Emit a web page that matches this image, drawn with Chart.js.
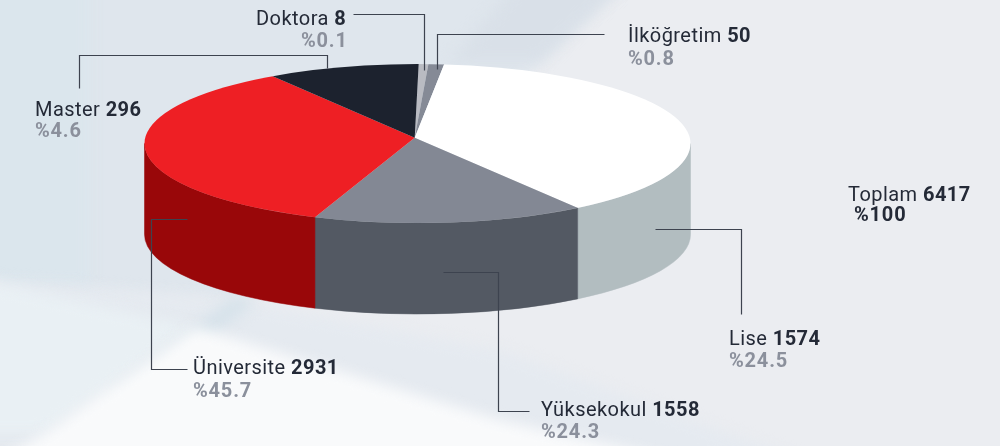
<!DOCTYPE html>
<html><head><meta charset="utf-8">
<style>html,body{margin:0;padding:0;background:#eceef2}canvas{display:block}</style>
<script src="https://cdn.jsdelivr.net/npm/chart.js@4"></script></head>
<body><canvas id="c" width="1000" height="446"></canvas>
<script>
const categories = ['Doktora','İlköğretim','Lise','Yüksekokul','Üniversite','Master'];
const counts = [8,50,1574,1558,2931,296];
const percents = ['%0.1','%0.8','%24.5','%24.3','%45.7','%4.6'];
// slice sizes as drawn in the picture (degrees of the pie, they are not proportional to the counts)
const drawnSlices = [2.2,3.55,139.25,54.2,126,34.8];
const totalLabel = 'Toplam', totalCount = 6417, totalPercent = '%100';
const topColors = ['#b9bbc2','#858a96','#ffffff','#838894','#ee1f24','#1c222e'];
const sideColors = ['#b9bbc2','#858a96','#b2bdc0','#535963','#990709','#1c222e'];

const E = {cx:417.5, cy:143.5, rx:273, ry:79.5, depth:91, ax:414.7, ay:137.8};

function polygon(ctx,pts,col){ctx.fillStyle=col;ctx.beginPath();pts.forEach((p,i)=>i?ctx.lineTo(p[0],p[1]):ctx.moveTo(p[0],p[1]));ctx.closePath();ctx.fill();}
const backdrop = {id:'backdrop',beforeDraw(chart){
  const c=chart.ctx;c.save();
  c.fillStyle='#ebedf1';c.fillRect(0,0,1000,446);
  c.filter='blur(7px)';
  polygon(c,[[-20,-20],[628,-20],[520,80],[400,200],[230,300],[-20,290]],'#dfe6ed');
  polygon(c,[[-20,-20],[90,-20],[90,285],[-20,285]],'#dbe6ed');
  polygon(c,[[520,-20],[628,-20],[540,62],[450,62]],'#d9e0e8');
  polygon(c,[[230,300],[500,350],[800,460],[-20,460],[-20,280]],'#e5eaf0');
  polygon(c,[[-20,280],[195,327],[45,433],[-20,433]],'#e9f0f4');
  polygon(c,[[235,296],[195,327],[115,392],[130,398],[258,300]],'#d6e2ea');
  polygon(c,[[195,327],[500,420],[720,470],[-20,470],[45,433]],'#f9fafb');
  c.restore();
}};
const pie3d = {id:'pie3d',
  beforeDatasetsDraw(chart){
    const c=chart.ctx,arcs=chart.getDatasetMeta(0).data;
    c.save();
    const ox=(E.ax-E.cx)/E.rx,oy=(E.ay-E.cy)/E.ry;
    const rim=a=>{const dx=Math.cos(a),dy=Math.sin(a),b=ox*dx+oy*dy;
      const s=-b+Math.sqrt(b*b-ox*ox-oy*oy+1);return Math.atan2(oy+s*dy,ox+s*dx);};
    const TAU=Math.PI*2;
    arcs.forEach((arc,i)=>{
      let t1=rim(arc.startAngle),t2=rim(arc.endAngle);
      while(t1<0)t1+=TAU;while(t2<t1)t2+=TAU;
      [0,TAU].forEach(k=>{
        const lo=Math.max(t1,k),hi=Math.min(t2,k+Math.PI);
        if(hi>lo){c.fillStyle=sideColors[i];c.strokeStyle=sideColors[i];c.lineWidth=0.5;c.beginPath();
          c.ellipse(E.cx,E.cy,E.rx,E.ry,0,lo,hi);
          c.ellipse(E.cx,E.cy+E.depth,E.rx,E.ry,0,hi,lo,true);
          c.closePath();c.fill();c.stroke();}
      });
    });
    c.beginPath();c.ellipse(E.cx,E.cy,E.rx,E.ry,0,0,TAU);c.clip();
    const a0=arcs[0],k=1.12;
    c.translate(E.ax,E.ay);c.scale(k*E.rx/a0.outerRadius,k*E.ry/a0.outerRadius);c.translate(-a0.x,-a0.y);
  },
  afterDatasetsDraw(chart){chart.ctx.restore();}
};
const DARK='#242a37',GREY='#8b909c',LINE='#3d434f';
const labelSpots={ // x, baseline of first line, x of second line, baseline of second line
  'Doktora':[256,25,301,47],'İlköğretim':[628,42,628,65],'Lise':[729,345,729,367],
  'Yüksekokul':[541,416,541,438],'Üniversite':[193,374,193,397],'Master':[35,116,35,137]};
const leaders=[
  [[353,14],[424,14],[424,70]],
  [[437,69],[437,34],[604,34]],
  [[655,229],[741,229],[741,314]],
  [[443,272],[498,272],[498,411],[529,411]],
  [[187,219],[151,219],[151,369],[187,369]],
  [[79,88],[79,55],[327,55],[327,68]]];
const REG='400 20px Roboto',BOLD='700 20px Roboto';
const notes={id:'notes',afterDraw(chart){
  const c=chart.ctx;c.save();
  c.strokeStyle=LINE;c.lineWidth=1.2;
  leaders.forEach(l=>{c.beginPath();l.forEach((p,i)=>i?c.lineTo(p[0]+.5,p[1]+.5):c.moveTo(p[0]+.5,p[1]+.5));c.stroke();});
  c.textBaseline='alphabetic';c.textAlign='left';
  const head=(name,n,x,y)=>{c.letterSpacing='0.45px';c.font=REG;c.fillStyle=DARK;const s=name+' ';c.fillText(s,x,y);
    const w=c.measureText(s).width;c.font=BOLD;c.fillText(String(n),x+w,y);};
  categories.forEach((name,i)=>{const p=labelSpots[name];
    head(name,counts[i],p[0],p[1]);
    c.letterSpacing='0.8px';c.font=BOLD;c.fillStyle=GREY;c.fillText(percents[i],p[2],p[3]);});
  head(totalLabel,totalCount,848,201);
  c.letterSpacing='0.8px';c.font=BOLD;c.fillStyle=DARK;c.fillText(totalPercent,854,221);
  c.restore();
}};
new Chart(document.getElementById('c'),{
  type:'pie',
  data:{labels:categories,datasets:[{data:drawnSlices,backgroundColor:topColors,borderWidth:0,clip:false}]},
  options:{responsive:false,animation:false,rotation:0.9,
    plugins:{legend:{display:false},tooltip:{enabled:false}},layout:{padding:0}},
  plugins:[backdrop,pie3d,notes]
});
</script></body></html>
